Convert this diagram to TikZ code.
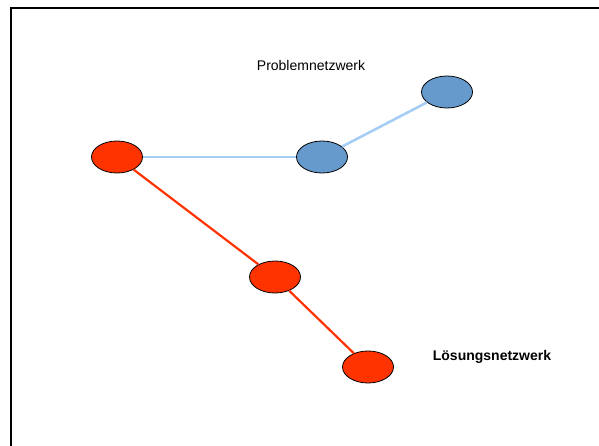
\documentclass[tikz,border=0pt]{standalone}
\usepackage{fontspec}
\setmainfont{Liberation Sans}
\usetikzlibrary{shapes.geometric}
\definecolor{nodered}{RGB}{255,51,0}
\definecolor{nodeblue}{RGB}{102,153,204}
\definecolor{linkblue}{RGB}{166,206,245}
\tikzset{
  knot/.style={ellipse, draw=black, line width=0.8pt, minimum width=51pt, minimum height=32pt, inner sep=0pt},
  rednode/.style={knot, fill=nodered},
  bluenode/.style={knot, fill=nodeblue},
  redlink/.style={draw=nodered, line width=2.2pt},
  bluelink/.style={draw=linkblue, line width=2.6pt},
  lbl/.style={font=\fontsize{14}{16}\selectfont, inner sep=0pt}
}
\begin{document}
\begin{tikzpicture}[x=1pt,y=-1pt]
\useasboundingbox (0,0) rectangle (599,446);
\draw[line width=2pt] (599,8) -- (11,8) -- (11,446);
\node[rednode] (r1) at (117,157) {};
\node[bluenode] (b1) at (322,157) {};
\node[bluenode] (b2) at (447,92) {};
\node[rednode] (r2) at (275,277) {};
\node[rednode] (r3) at (368,367) {};
\begin{scope}[on background layer/.style={}]
\end{scope}
\path[bluelink] (r1) -- (b1);
\path[bluelink] (b1) -- (b2);
\path[redlink] (r1) -- (r2);
\path[redlink] (r2) -- (r3);
\node[lbl] (t1) at (311,65) {Problemnetzwerk};
\node[lbl, font=\fontsize{14}{16}\selectfont\bfseries] (t2) at (492,357) {Lösungsnetzwerk};
\end{tikzpicture}
\end{document}
